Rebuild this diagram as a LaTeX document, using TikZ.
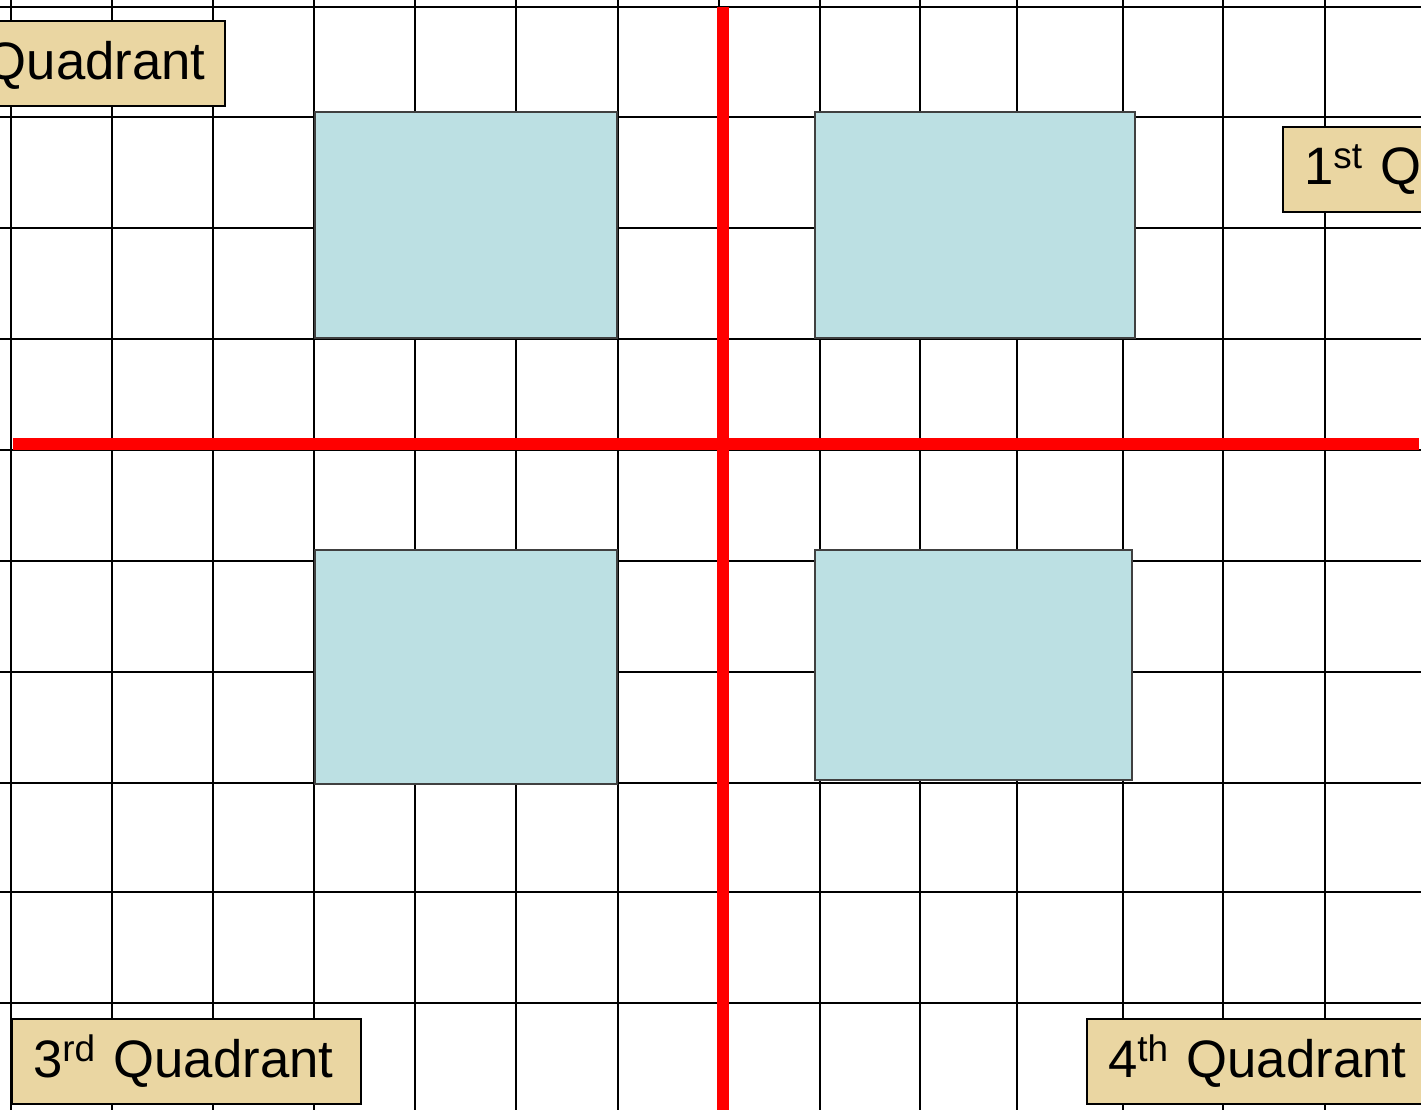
\documentclass[tikz,border=0pt]{standalone}
\usepackage{fontspec}
\setmainfont{Liberation Sans}
\definecolor{qdred}{RGB}{255,0,0}
\definecolor{qdblue}{RGB}{188,224,227}
\definecolor{qdtan}{RGB}{234,214,162}
\tikzset{
  qdgrid/.style={draw, black, line width=1.6pt},
  qdaxis/.style={draw, qdred, line width=6.8pt},
  qdpanel/.style={draw=black!75, fill=qdblue, line width=0.6pt},
  qdlabel/.style={rectangle, draw, fill=qdtan, line width=1pt,
                  text width=6.14cm, align=left, inner xsep=0.42cm,
                  inner ysep=0pt, minimum height=1.7cm,
                  font=\fontsize{30}{36}\selectfont}
}
\begin{document}
\begin{tikzpicture}[x=0.02cm, y=-0.02cm]
  \useasboundingbox (0,0) rectangle (1421,1110);
  \clip (0,0) rectangle (1421,1110);
  \fill[white] (0,0) rectangle (1421,1110);
  % the squared paper
  \foreach \x in {11,112,213,314,415,516,618,719,820,920,1017,1123,1223,1325}
    { \draw[qdgrid] (\x,0) -- (\x,1110); }
  \foreach \y in {7,117,228,339,450,561,672,783,892,1003}
    { \draw[qdgrid] (0,\y) -- (1421,\y); }
  % left/top/right/bottom of the four panels
  \foreach \l/\t/\r/\b in {%
      315/112/617/338, 815/112/1135/338,
      315/550/617/784, 815/550/1132/780}
    { \draw[qdpanel] (\l,\t) rectangle (\r,\b); }
  % the two axes
  \draw[qdaxis] (13,444) -- (1419,444);
  \draw[qdaxis] (723,7) -- (723,1110);
  % quadrant labels, name/x/y/text
  \foreach \n/\x/\y/\t in {%
      qtwo/50.5/63.5/2\textsuperscript{nd} Quadrant,
      qone/1457.5/169.5/1\textsuperscript{st} Quadrant,
      qthree/186.5/1061.5/3\textsuperscript{rd} Quadrant,
      qfour/1261.5/1061.5/4\textsuperscript{th} Quadrant}
    { \node[qdlabel] (\n) at (\x,\y) {\mbox{\t}}; }
\end{tikzpicture}
\end{document}
